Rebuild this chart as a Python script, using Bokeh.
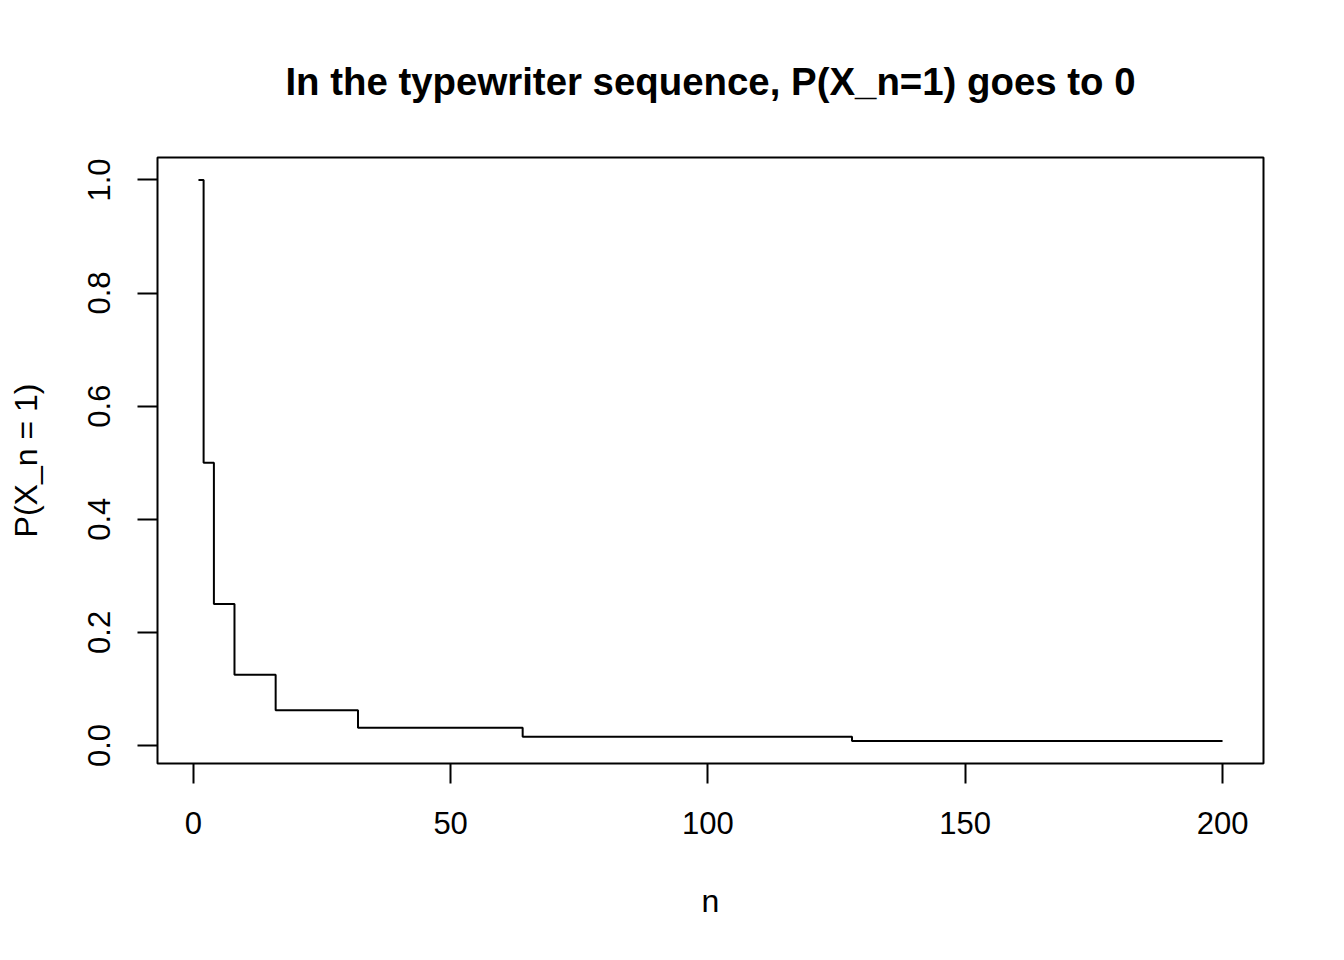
from bokeh.plotting import figure
from bokeh.models import Range1d, FixedTicker, Title
from bokeh.embed import file_html
from bokeh.resources import INLINE

# data (step breakpoints)
n_break = [1, 2, 4, 8, 16, 32, 64, 128, 200]
prob = [1.0, 0.5, 0.25, 0.125, 0.0625, 0.03125, 0.015625, 0.0078125, 0.0078125]

x_ticks = [0, 50, 100, 150, 200]
x_labels = ["0", "50", "100", "150", "200"]
y_ticks = [0.0, 0.2, 0.4, 0.6, 0.8, 1.0]
y_labels = ["0.0", "0.2", "0.4", "0.6", "0.8", "1.0"]

FONT = "Liberation Sans"

xpad = (max(n_break) - min(n_break)) * 0.04
ypad = (max(prob) - min(prob)) * 0.04

p = figure(width=1328, height=944,
           x_range=Range1d(min(n_break) - xpad, max(n_break) + xpad),
           y_range=Range1d(min(prob) - ypad, max(prob) + ypad),
           output_backend="svg", toolbar_location=None,
           min_border_left=157, min_border_right=65,
           min_border_top=157, min_border_bottom=181)

p.title = Title(text="In the typewriter sequence, P(X_n=1) goes to 0",
                align="center", text_font=FONT, text_font_size="38.4px",
                text_font_style="bold", text_color="black", standoff=110)

p.step(x=n_break, y=prob, mode="after", line_color="black", line_width=2)

p.xgrid.visible = False
p.ygrid.visible = False
p.outline_line_color = "black"
p.outline_line_width = 2
p.outline_line_alpha = 1.0

p.xaxis.ticker = FixedTicker(ticks=x_ticks)
p.xaxis.major_label_overrides = {t: l for t, l in zip(x_ticks, x_labels)}
p.yaxis.ticker = FixedTicker(ticks=y_ticks)
p.yaxis.major_label_overrides = {t: l for t, l in zip(y_ticks, y_labels)}
p.yaxis.major_label_orientation = "vertical"

p.xaxis.axis_label = "n"
p.yaxis.axis_label = "P(X_n = 1)"

for ax in (p.xaxis[0], p.yaxis[0]):
    ax.axis_line_color = None
    ax.major_tick_line_color = "black"
    ax.major_tick_line_width = 2
    ax.major_tick_in = 0
    ax.major_tick_out = 20
    ax.minor_tick_line_color = None
    ax.major_label_text_font = FONT
    ax.major_label_text_font_size = "31px"
    ax.major_label_text_color = "black"
    ax.axis_label_text_font = FONT
    ax.axis_label_text_font_size = "32px"
    ax.axis_label_text_font_style = "normal"
    ax.axis_label_text_color = "black"

p.xaxis.major_label_standoff = 28
p.yaxis.major_label_standoff = 27
p.xaxis.axis_label_standoff = 46
p.yaxis.axis_label_standoff = 42

open("out.html", "w").write(file_html(p, INLINE))
